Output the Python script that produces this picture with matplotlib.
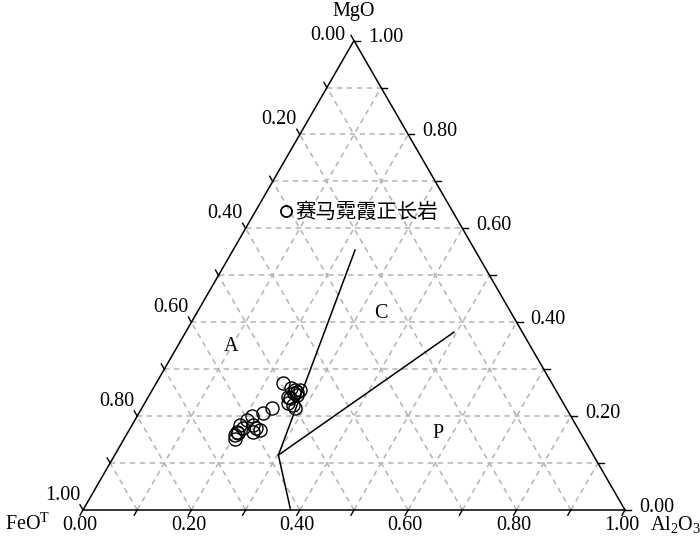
import numpy as np
import matplotlib.pyplot as plt
from matplotlib.lines import Line2D

plt.rcParams['font.family'] = ['Liberation Serif', 'DejaVu Serif']
plt.rcParams['mathtext.fontset'] = 'custom'
plt.rcParams['mathtext.rm'] = 'Liberation Serif'
plt.rcParams['mathtext.it'] = 'Liberation Serif:italic'

# sample compositions as fractions, FeOT = 1 - MgO - Al2O3
mgo = [0.271, 0.259, 0.256, 0.252, 0.256, 0.249, 0.241, 0.245, 0.227, 0.224,
       0.239, 0.217, 0.207, 0.200, 0.192, 0.181, 0.181, 0.174, 0.167, 0.160,
       0.151, 0.163, 0.170, 0.167, 0.174, 0.217]
al2o3 = [0.233, 0.255, 0.263, 0.269, 0.273, 0.264, 0.258, 0.272, 0.265, 0.276,
         0.263, 0.240, 0.228, 0.211, 0.206, 0.199, 0.224, 0.233, 0.200, 0.201,
         0.205, 0.205, 0.241, 0.231, 0.209, 0.283]

# field boundaries
bound1_mgo = [0.554, 0.117, 0.0]
bound1_al = [0.225, 0.302, 0.383]
bound2_mgo = [0.117, 0.379]
bound2_al = [0.302, 0.495]

field_names = ['A', 'C', 'P']
field_mgo = [0.349, 0.418, 0.164]
field_al = [0.099, 0.341, 0.573]

tick_vals = np.round(np.arange(0, 1.01, 0.1), 2)
label_vals = [0.0, 0.2, 0.4, 0.6, 0.8, 1.0]
legend_label = '赛马霓霞正长岩'

h = np.sqrt(3) / 2


def tern(mg, al):
    mg = np.asarray(mg, dtype=float)
    al = np.asarray(al, dtype=float)
    return al + mg / 2, mg * h


fig = plt.figure(figsize=(7, 5.4), dpi=100)
ax = fig.add_axes([0, 0, 1, 1])
s = 542.0  # pixels per unit side
ax.set_xlim(-83 / s, 617 / s)
ax.set_ylim(-30 / s, 510 / s)
ax.axis('off')

# dashed grid
gkw = dict(color='#b3b3b3', lw=1.1, ls=(0, (3.5, 3)), zorder=1)
for v in tick_vals[1:-1]:
    ax.plot(*tern([v, v], [0, 1 - v]), **gkw)
    ax.plot(*tern([0, 1 - v], [v, v]), **gkw)
    ax.plot(*tern([0, 1 - v], [1 - v, 0]), **gkw)

# frame
ax.plot(*tern([0, 0, 1, 0], [0, 1, 0, 0]), color='k', lw=1.1, zorder=3)

# ticks
L = 6 / s
for v in tick_vals:
    x, y = tern(0, v)
    ax.plot([x, x - 0.5 * L], [y, y - h * L], color='k', lw=1.0)
    x, y = tern(v, 1 - v)
    ax.plot([x, x + L], [y, y], color='k', lw=1.0)
    x, y = tern(1 - v, 0)
    ax.plot([x, x - 0.5 * L], [y, y + h * L], color='k', lw=1.0)

fs = 14.5
for v in label_vals:
    # Al2O3 along the bottom
    x, y = tern(0, v)
    ax.text(x - 3 / s, y - 20 / s, '%.2f' % v, ha='center', va='baseline', fontsize=fs)
    # MgO along the right side
    x, y = tern(v, 1 - v)
    ax.text(x + 14 / s, y + 3 / s, '%.2f' % v, ha='left', va='center', fontsize=fs)
    # FeOT along the left side
    x, y = tern(1 - v, 0)
    if v == 0:
        ax.text(x - 9 / s, y + 5 / s, '%.2f' % v, ha='right', va='center', fontsize=fs)
    else:
        ax.text(x - 3 / s, y + 15 / s, '%.2f' % v, ha='right', va='center', fontsize=fs)

x, y = tern(1, 0)
ax.text(x, y + 29 / s, 'MgO', ha='center', va='center', fontsize=fs)
ax.text(-33 / s, -20 / s, r'FeO$^{\mathrm{T}}$', ha='right', va='baseline', fontsize=fs)
ax.text(1 + 25 / s, -20 / s, r'Al$_2$O$_3$', ha='left', va='baseline', fontsize=fs)

# field boundaries
ax.plot(*tern(bound1_mgo, bound1_al), color='k', lw=1.1, zorder=3)
ax.plot(*tern(bound2_mgo, bound2_al), color='k', lw=1.1, zorder=3)

for name, m, a in zip(field_names, field_mgo, field_al):
    ax.text(*tern(m, a), name, ha='center', va='center', fontsize=fs)

# samples
ax.plot(*tern(mgo, al2o3), 'o', mfc='none', mec='k', mew=1.0, ms=9.4, zorder=4)

handle = Line2D([], [], marker='o', ls='none', mfc='none', mec='k', mew=1.3, ms=8)
leg = ax.legend([handle], [legend_label], loc='center', bbox_to_anchor=(0.513, 0.606),
                frameon=False, handlelength=0.6, handletextpad=0.15,
                prop={'family': ['Noto Sans CJK SC', 'DejaVu Sans'], 'size': 14.7})

fig.savefig('out.png', dpi=100)
